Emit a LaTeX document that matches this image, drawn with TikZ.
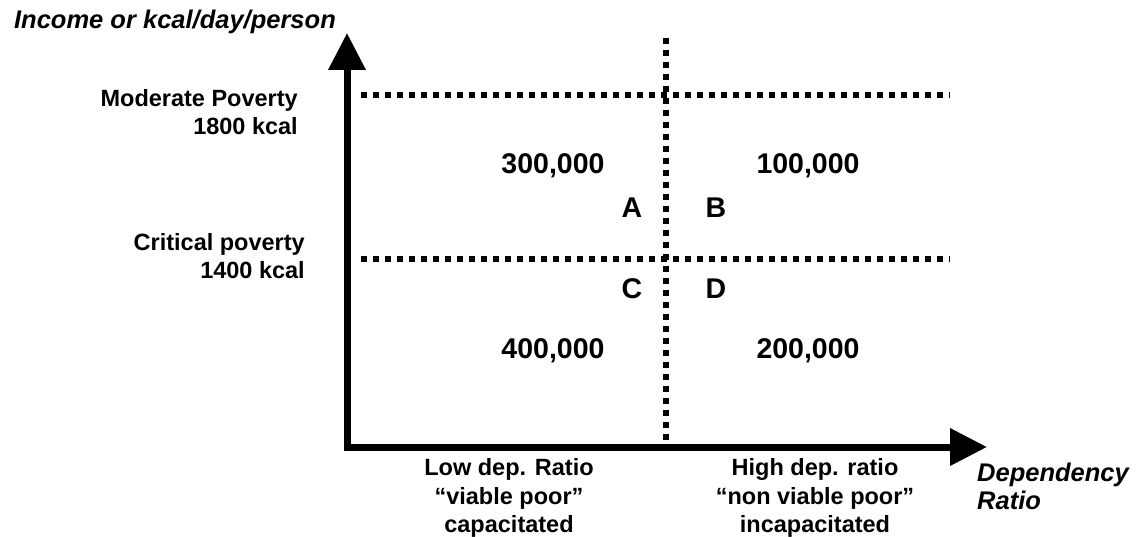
\documentclass[tikz,border=0pt]{standalone}
\usepackage{fontspec}
\setmainfont{Liberation Sans}
\usetikzlibrary{arrows.meta,positioning}
\tikzset{
  axis/.style={line width=7pt,line join=miter,
    {Triangle[length=37pt,width=36pt]}-{Triangle[length=37pt,width=36pt]}},
  cut/.style={line width=6pt,dash pattern=on 6pt off 6pt},
  lbl/.style={font=\fontsize{23.5}{28.5}\selectfont\bfseries,inner sep=0pt,align=center},
  ttl/.style={font=\fontsize{25.5}{28}\selectfont\bfseries\itshape,inner sep=0pt,align=left},
  num/.style={font=\fontsize{28.5}{32}\selectfont\bfseries,inner sep=0pt},
}

\begin{document}
\begin{tikzpicture}[x=1pt,y=-1pt]
\useasboundingbox (0,0) rectangle (1139,537);
% axes
\coordinate (O) at (347,447);
\coordinate (ytip) at (347,33);
\coordinate (xtip) at (987,447);
\draw[axis] (ytip) -- (O) -- (xtip);
% thresholds and dependency split
\coordinate (modL) at (361,95);  \coordinate (modR) at (950,95);
\coordinate (criL) at (361,259); \coordinate (criR) at (950,259);
\coordinate (splT) at (666,38);  \coordinate (splB) at (666,443);
\draw[cut] (modL) -- (modR);
\draw[cut] (criL) -- (criR);
\draw[cut] (splT) -- (splB);
% axis titles
\node[ttl] (ylab) at (175,22) {Income or kcal/day/person};
\node[ttl,anchor=west] (xlab) at (977,486) {Dependency\\Ratio};
% poverty lines
\node[lbl,anchor=east,align=right] (moderate) at (298,112) {Moderate Poverty\\1800 kcal};
\node[lbl,anchor=east,align=right] (critical) at (305,256) {Critical poverty\\1400 kcal};
% groups
\node[lbl] (low) at (509,498) {Low dep. Ratio\\“viable poor”\\capacitated};
\node[lbl] (high) at (815,498) {High dep. ratio\\“non viable poor”\\incapacitated};
% quadrants
\node[num] (nA) at (553,166) {300,000};
\node[num] (nB) at (808,166) {100,000};
\node[num] (nC) at (553,351) {400,000};
\node[num] (nD) at (808,351) {200,000};
\node[num] (qA) at (632,208) {A};
\node[num] (qB) at (716,208) {B};
\node[num] (qC) at (632,289) {C};
\node[num] (qD) at (716,289) {D};
\end{tikzpicture}
\end{document}
